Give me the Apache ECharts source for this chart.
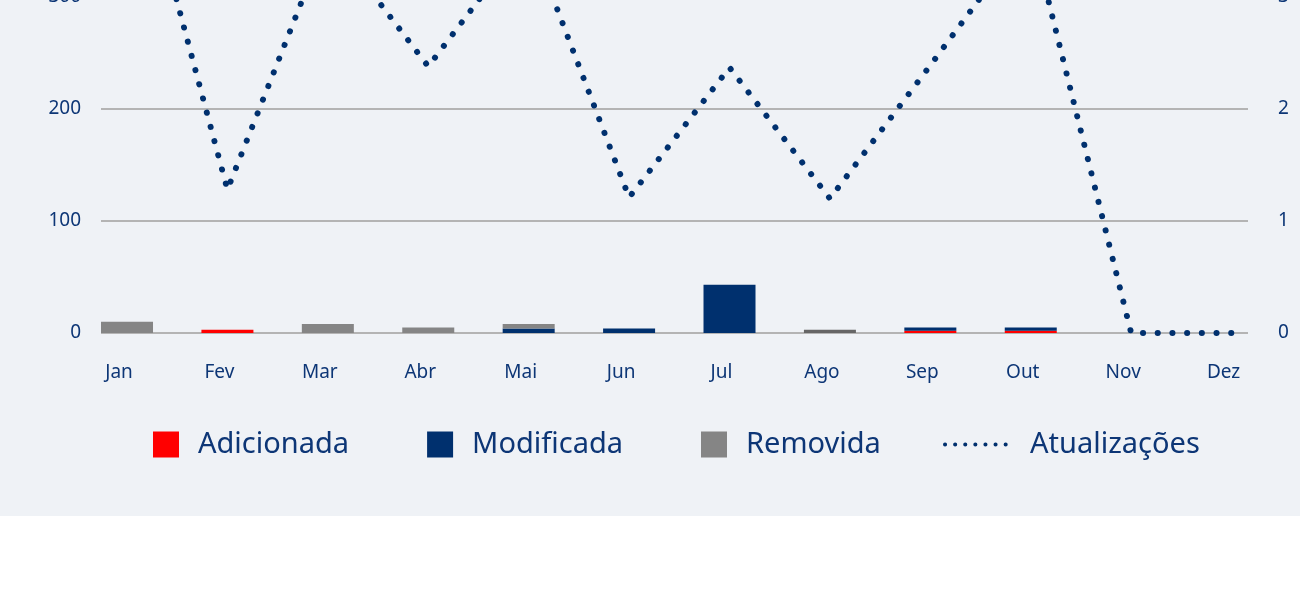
<!DOCTYPE html>
<html>
<head>
<meta charset="utf-8">
<script src="https://cdn.jsdelivr.net/npm/echarts@6/dist/echarts.min.js"></script>
<style>
  html, body { margin: 0; padding: 0; background: #ffffff; width: 1300px; height: 610px; overflow: hidden; }
  #wrap { position: absolute; left: 0; top: -250px; width: 1300px; height: 766px; background: #eff2f6; }
  #chart { width: 1300px; height: 766px; }
</style>
</head>
<body>
<div id="wrap"><div id="chart"></div></div>
<script>
// ---- data ----
const months = ['Jan','Fev','Mar','Abr','Mai','Jun','Jul','Ago','Sep','Out','Nov','Dez'];
const adicionada  = [0, 3, 0, 0, 0, 0, 0, 0, 2, 2, 0, 0];
const modificada  = [0, 0, 0, 0, 4, 4, 43, 0, 3, 3, 0, 0];
const removida    = [10, 0, 8, 5, 4, 0, 0, 3, 0, 0, 0, 0];
const atualizacoes = [463, 128, 355, 238, 356, 121, 237, 120, 239, 360, 0, 0];
const leftTicks = [0, 100, 200, 300, 400, 500];
const rightTicks = [0, 1, 2, 3, 4, 5];

const navy = '#0d3676';
const font = 'Noto Sans';
const chart = echarts.init(document.getElementById('chart'), null, { renderer: 'canvas' });

const gridTop = 23, gridBottom = 183;

const option = {
  backgroundColor: 'transparent',
  animation: false,
  textStyle: { fontFamily: font },
  grid: [
    { left: 101, right: 52, top: gridTop, bottom: gridBottom },      // axes & grid lines
    { left: 76.8, width: 1205, top: gridTop, bottom: gridBottom }    // bars & line
  ],
  legend: [
    {
      data: ['Adicionada', 'Modificada', 'Removida'],
      left: 153, top: 680, padding: 0,
      itemWidth: 26, itemHeight: 26, itemGap: 78,
      icon: 'rect',
      textStyle: { fontFamily: font, fontSize: 29, color: navy, padding: [0, 0, 0, 14] }
    },
    {
      data: ['Atualizações'],
      left: 943, top: 680, padding: 0,
      itemWidth: 67, itemHeight: 26,
      itemStyle: { opacity: 0 },
      lineStyle: { width: 4, type: [0.1, 10], cap: 'round', color: '#00306e' },
      textStyle: { fontFamily: font, fontSize: 29, color: navy, padding: [0, 0, 0, 13] }
    }
  ],
  xAxis: [
    { type: 'value', gridIndex: 0, show: false, min: 0, max: 1 },
    {
      type: 'category', gridIndex: 1, data: months, boundaryGap: true,
      axisLine: { show: false }, axisTick: { show: false },
      axisLabel: { color: navy, fontSize: 19, fontFamily: font, margin: 30, padding: [0, 16, 0, 0], interval: 0 }
    }
  ],
  yAxis: [
    {
      type: 'value', gridIndex: 0, position: 'left', min: leftTicks[0], max: leftTicks[leftTicks.length - 1], interval: 100,
      axisLine: { show: false }, axisTick: { show: false },
      axisLabel: { color: navy, fontSize: 19, fontFamily: font, margin: 20 },
      splitLine: { show: true, lineStyle: { color: '#b4b4b4', width: 2 } }
    },
    {
      type: 'value', gridIndex: 0, position: 'right', min: rightTicks[0], max: rightTicks[rightTicks.length - 1], interval: 1,
      axisLine: { show: false }, axisTick: { show: false },
      axisLabel: { color: navy, fontSize: 19, fontFamily: font, margin: 30 },
      splitLine: { show: false }
    },
    {
      type: 'value', gridIndex: 1, min: leftTicks[0], max: leftTicks[leftTicks.length - 1], show: false
    }
  ],
  series: [
    {
      name: 'Adicionada', type: 'bar', xAxisIndex: 1, yAxisIndex: 2, stack: 'total',
      barWidth: 52, data: adicionada, itemStyle: { color: '#ff0000' }
    },
    {
      name: 'Modificada', type: 'bar', xAxisIndex: 1, yAxisIndex: 2, stack: 'total',
      barWidth: 52, data: modificada, itemStyle: { color: '#00306e' }
    },
    {
      name: 'Removida', type: 'bar', xAxisIndex: 1, yAxisIndex: 2, stack: 'total',
      barWidth: 52,
      data: removida.map((v, i) => months[i] === 'Ago' ? { value: v, itemStyle: { color: '#666666' } } : v),
      itemStyle: { color: '#858585' }
    },
    {
      name: 'Atualizações', type: 'line', xAxisIndex: 1, yAxisIndex: 2,
      data: atualizacoes, symbol: 'none', smooth: false,
      lineStyle: { color: '#00306e', width: 6, type: [0.1, 14.6], cap: 'round' },
      itemStyle: { color: '#00306e' },
      z: 5
    }
  ]
};
chart.setOption(option);
</script>
</body>
</html>
